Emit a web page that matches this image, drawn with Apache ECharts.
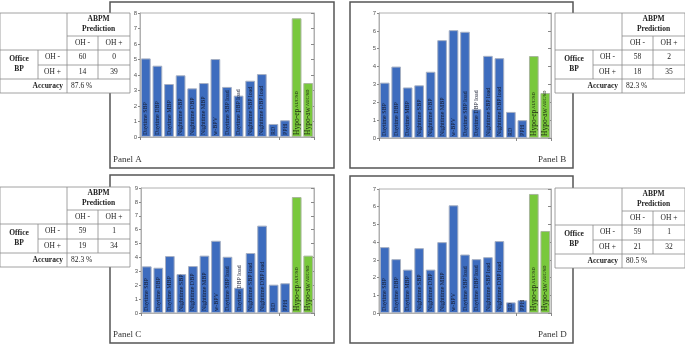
<!DOCTYPE html>
<html>
<head>
<meta charset="utf-8">
<script src="https://cdn.jsdelivr.net/npm/echarts@6/dist/echarts.min.js"></script>
<style>
  html, body { margin: 0; padding: 0; background: #fff; }
  #main { width: 685px; height: 344px; }
</style>
</head>
<body>
<div id="main"></div>
<script>
// categories shown inside the bars
var categories = ['Daytime SBP', 'Daytime DBP', 'Daytime MBP', 'Nighttime SBP', 'Nighttime DBP', 'Nighttime MBP',
    'w-BPV', 'Daytime SBP load', 'Daytime DBP load', 'Nighttime SBP load', 'Nighttime DBP load', 'RD', 'PPH',
    'Hypo-ep', 'Hypo-aw'];

// bar heights for each panel
var valuesA = [5.07, 4.6, 3.42, 3.98, 3.14, 3.48, 5.03, 3.23, 2.67, 3.63, 4.06, 0.84, 1.08, 7.66, 3.48];
var valuesB = [3.1, 4.0, 2.83, 2.95, 3.71, 5.48, 6.04, 5.95, 1.61, 4.6, 4.47, 1.46, 1.0, 4.59, 2.52];
var valuesC = [3.36, 3.26, 4.1, 2.8, 3.38, 4.13, 5.2, 4.05, 1.82, 4.32, 6.29, 2.04, 2.14, 8.35, 4.13];
var valuesD = [3.72, 3.04, 2.45, 3.66, 2.45, 4.0, 6.08, 3.3, 3.04, 3.15, 4.06, 0.6, 0.72, 6.72, 4.63];

// y axis maxima (ticks 0..max)
var axisMax = [8, 7, 9, 7];

// confusion tables: rows = office BP OH-/OH+, cols = ABPM OH-/OH+
var tableA = [[60, 0], [14, 39]];
var tableB = [[58, 2], [18, 35]];
var tableC = [[59, 1], [19, 34]];
var tableD = [[59, 1], [21, 32]];
var accuracy = ['87.6 %', '82.3 %', '82.3 %', '80.5 %'];
var panelNames = ['Panel A', 'Panel B', 'Panel C', 'Panel D'];

var chart = echarts.init(document.getElementById('main'));

var grids = [
    {left: 140, top: 13, width: 174, height: 124},
    {left: 379, top: 13, width: 172, height: 125},
    {left: 141, top: 188, width: 173, height: 125},
    {left: 379, top: 189, width: 172, height: 124}
];
var frames = [
    {x: 110, y: 2, width: 224, height: 166},
    {x: 350, y: 2, width: 223, height: 166},
    {x: 110, y: 175, width: 224, height: 168},
    {x: 350, y: 176, width: 223, height: 167}
];
var tablePos = [[0, 13], [555, 13], [0, 187], [555, 188]];
var panelLabelPos = [[113, 160], [538, 160], [113, 335], [538, 335]];

var serif = '"Liberation Serif", "DejaVu Serif", serif';
var blue = '#3d6cbe';
var green = '#79c83c';

function makeLabel(name) {
    if (name === 'Hypo-ep' || name === 'Hypo-aw') {
        return '{h|' + name + '}{s| AUC/SD}';
    }
    return '{n|' + name + '}';
}

var allValues = [valuesA, valuesB, valuesC, valuesD];
var xAxes = [], yAxes = [], series = [];

for (var i = 0; i < 4; i++) {
    xAxes.push({
        gridIndex: i, type: 'category', data: categories,
        axisLine: {lineStyle: {color: '#b0b0b0'}},
        axisTick: {show: false},
        axisLabel: {show: false}
    });
    xAxes.push({
        gridIndex: i, type: 'category', data: categories, position: 'top',
        axisLine: {lineStyle: {color: '#b0b0b0'}},
        axisTick: {show: true, inside: true, length: 3, lineStyle: {color: '#888'}},
        axisLabel: {show: false}
    });
    yAxes.push({
        gridIndex: i, type: 'value', min: 0, max: axisMax[i], interval: 1,
        axisLine: {show: true, lineStyle: {color: '#b0b0b0'}},
        axisTick: {show: true, length: 2, lineStyle: {color: '#888'}},
        axisLabel: {fontSize: 6, color: '#555', margin: 3, fontFamily: 'Arial'},
        splitLine: {show: false}
    });
    yAxes.push({
        gridIndex: i, type: 'value', min: 0, max: axisMax[i], interval: 1, position: 'right',
        axisLine: {show: true, lineStyle: {color: '#b0b0b0'}},
        axisTick: {show: true, inside: true, length: 3, lineStyle: {color: '#888'}},
        axisLabel: {show: false},
        splitLine: {show: false}
    });

    var data = [];
    for (var k = 0; k < categories.length; k++) {
        var isHypo = k >= 13;
        data.push({
            value: allValues[i][k],
            itemStyle: {color: isHypo ? green : blue, borderColor: isHypo ? '#a9b89c' : '#a6b0c4', borderWidth: 1}
        });
    }
    series.push({
        type: 'bar',
        xAxisIndex: i * 2, yAxisIndex: i * 2,
        data: data,
        barCategoryGap: '16%',
        label: {
            show: true, position: 'insideBottom', rotate: 90, align: 'left', verticalAlign: 'middle',
            distance: 2,
            formatter: function (p) { return makeLabel(p.name); },
            rich: {
                n: {fontSize: 6, fontFamily: serif, color: '#151a2e'},
                h: {fontSize: 7.5, fontFamily: serif, color: '#1e2a12'},
                s: {fontSize: 4.5, fontFamily: serif, color: '#1e2a12'}
            }
        }
    });
}

function buildTable(pos, conf, acc) {
    var x0 = pos[0], y0 = pos[1];
    var cols = [0, 38, 67, 98, 130];
    var rows = [0, 23, 37, 52, 66, 80];
    var lineStyle = {stroke: '#8a8a8a', lineWidth: 0.8};
    var items = [];
    function line(x1, y1, x2, y2) {
        items.push({type: 'line', shape: {x1: x0 + x1, y1: y0 + y1, x2: x0 + x2, y2: y0 + y2}, style: lineStyle, z: 101});
    }
    function text(str, cx, cy, bold, align) {
        items.push({type: 'text', x: x0 + cx, y: y0 + cy, z: 102, style: {
            text: str, fill: '#222', font: (bold ? 'bold ' : '') + '7.5px ' + serif,
            textAlign: align || 'center', textVerticalAlign: 'middle', lineHeight: 10
        }});
    }
    items.push({type: 'rect', shape: {x: x0, y: y0, width: cols[4], height: rows[5]},
        style: {fill: '#fff', stroke: '#8a8a8a', lineWidth: 0.8}, z: 100});
    line(cols[2], rows[1], cols[4], rows[1]);
    line(0, rows[2], cols[4], rows[2]);
    line(cols[1], rows[3], cols[4], rows[3]);
    line(0, rows[4], cols[4], rows[4]);
    line(cols[2], 0, cols[2], rows[5]);
    line(cols[1], rows[2], cols[1], rows[4]);
    line(cols[3], rows[1], cols[3], rows[4]);

    text('ABPM\nPrediction', (cols[2] + cols[4]) / 2, rows[1] / 2, true);
    text('OH -', (cols[2] + cols[3]) / 2, (rows[1] + rows[2]) / 2);
    text('OH +', (cols[3] + cols[4]) / 2, (rows[1] + rows[2]) / 2);
    text('Office\nBP', cols[1] / 2, (rows[2] + rows[4]) / 2, true);
    text('OH -', (cols[1] + cols[2]) / 2, (rows[2] + rows[3]) / 2);
    text('OH +', (cols[1] + cols[2]) / 2, (rows[3] + rows[4]) / 2);
    for (var r = 0; r < 2; r++) {
        for (var c = 0; c < 2; c++) {
            text(String(conf[r][c]), (cols[2 + c] + cols[3 + c]) / 2, (rows[2 + r] + rows[3 + r]) / 2);
        }
    }
    text('Accuracy', cols[2] - 4, (rows[4] + rows[5]) / 2, true, 'right');
    text(acc, cols[2] + 4, (rows[4] + rows[5]) / 2, false, 'left');
    return items;
}

var graphics = [];
var tables = [tableA, tableB, tableC, tableD];
for (var j = 0; j < 4; j++) {
    graphics.push({type: 'rect', shape: frames[j], style: {fill: 'none', stroke: '#555', lineWidth: 1.5}, z: -10});
    graphics.push({type: 'text', x: panelLabelPos[j][0], y: panelLabelPos[j][1], z: 5,
        style: {text: panelNames[j], fill: '#333', font: '9px ' + serif, textVerticalAlign: 'middle'}});
    graphics = graphics.concat(buildTable(tablePos[j], tables[j], accuracy[j]));
}

chart.setOption({
    animation: false,
    grid: grids.map(function (g) { return Object.assign({show: true, borderColor: '#b0b0b0', borderWidth: 1}, g); }),
    xAxis: xAxes,
    yAxis: yAxes,
    series: series,
    graphic: graphics
});
</script>
</body>
</html>
